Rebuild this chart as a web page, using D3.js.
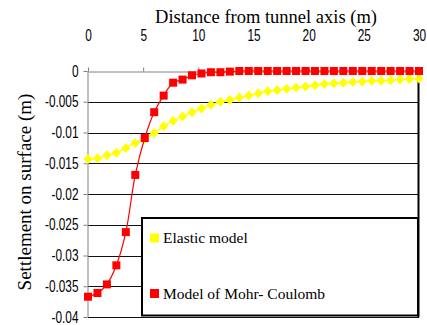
<!DOCTYPE html>
<html>
<head>
<meta charset="utf-8">
<script src="https://cdn.jsdelivr.net/npm/d3@7/dist/d3.min.js"></script>
<style>
  html, body { margin: 0; padding: 0; background: #fff; }
  svg { display: block; }
  .serif { font-family: "Liberation Serif", "DejaVu Serif", "Noto Serif", "Times New Roman", "Nimbus Roman", "Nimbus Roman No9 L", FreeSerif, Tinos, Times, serif; }
  .sans { font-family: "Liberation Sans", Arial, Helvetica, sans-serif; }
</style>
</head>
<body>
<svg id="chart" width="427" height="325"></svg>
<script>
// Surface settlement profiles: distance from the tunnel axis (m) vs settlement (m)
const distance = [0, 0.857, 1.714, 2.571, 3.429, 4.286, 5.143, 6, 6.857, 7.714,
  8.571, 9.429, 10.286, 11.143, 12, 12.857, 13.714, 14.571, 15.429, 16.286,
  17.143, 18, 18.857, 19.714, 20.571, 21.429, 22.286, 23.143, 24, 24.857,
  25.714, 26.571, 27.429, 28.286, 29.143, 30];

const elastic = [-0.0143, -0.0142, -0.0137, -0.0133, -0.0125, -0.0117, -0.0110, -0.0101,
  -0.0090, -0.0081, -0.0074, -0.0067, -0.0061, -0.0055, -0.0050, -0.0047,
  -0.0043, -0.0040, -0.0036, -0.0033, -0.0031, -0.0029, -0.0027, -0.0025,
  -0.0023, -0.0021, -0.0020, -0.0019, -0.0018, -0.0017, -0.0016, -0.0016,
  -0.0015, -0.0014, -0.0013, -0.0012];

const mohrCoulomb = [-0.0367, -0.0361, -0.0347, -0.0316, -0.0262, -0.0169, -0.0109, -0.0067,
  -0.0040, -0.0019, -0.0014, -0.0007, -0.0004, -0.0002, -0.0002, -0.0001,
  0, 0, 0, 0, 0, 0, 0, 0, 0, 0, 0, 0, 0, 0, 0, 0, 0, 0, 0, 0];

const xTicks = [0, 5, 10, 15, 20, 25, 30];
const yTicks = [0, -0.005, -0.01, -0.015, -0.02, -0.025, -0.03, -0.035, -0.04];
const yTickLabels = ["0", "-0.005", "-0.01", "-0.015", "-0.02", "-0.025", "-0.03", "-0.035", "-0.04"];
const seriesNames = ["Elastic model", "Model of Mohr- Coulomb"];
const xTitle = "Distance from tunnel axis (m)";
const yTitle = "Settlement on surface (m)";

const svg = d3.select("#chart");
const x = d3.scaleLinear().domain([0, 30]).range([88, 419]);
const y = d3.scaleLinear().domain([-0.04, 0]).range([317, 71]);

const squeeze = 0.74;

// horizontal gridlines
svg.append("g")
  .selectAll("line")
  .data(yTicks.filter(d => d !== 0))
  .join("line")
  .attr("x1", x(0)).attr("x2", x(30))
  .attr("y1", d => Math.round(y(d)) + 0.5).attr("y2", d => Math.round(y(d)) + 0.5)
  .attr("stroke", "#111").attr("stroke-width", 1);

// right edge of the plot area
svg.append("line")
  .attr("x1", x(30) - 0.5).attr("x2", x(30) - 0.5)
  .attr("y1", y(0)).attr("y2", y(-0.04))
  .attr("stroke", "#000").attr("stroke-width", 2);

// horizontal axis along the zero line, labels on top
const xAxis = svg.append("g")
  .attr("transform", `translate(0,${Math.round(y(0)) + 0.5})`)
  .call(d3.axisTop(x).tickValues(xTicks).tickSize(4).tickSizeOuter(0).tickPadding(27));
xAxis.attr("font-family", null).attr("font-size", null);
xAxis.select(".domain").attr("stroke", "#808080");
xAxis.selectAll(".tick line").attr("stroke", "#808080");
xAxis.selectAll(".tick text")
  .attr("class", "sans").attr("font-size", 16).attr("fill", "#000")
  .attr("transform", `scale(${squeeze},1)`);

// vertical axis
const yAxis = svg.append("g")
  .attr("transform", `translate(${x(0) - 0.5},0)`)
  .call(d3.axisLeft(y).tickValues(yTicks).tickSize(4).tickSizeOuter(0)
    .tickFormat((d, i) => yTickLabels[i]));
yAxis.attr("font-family", null).attr("font-size", null);
yAxis.select(".domain").attr("stroke", "#808080");
yAxis.selectAll(".tick line").attr("stroke", "#808080");
yAxis.selectAll(".tick text")
  .attr("class", "sans").attr("font-size", 16).attr("fill", "#000")
  .attr("x", -9 / squeeze)
  .attr("transform", `scale(${squeeze},1)`);

// axis titles
svg.append("text")
  .attr("class", "serif")
  .attr("x", 266).attr("y", 23)
  .attr("text-anchor", "middle")
  .attr("font-size", 18.5)
  .text(xTitle);

svg.append("text")
  .attr("class", "serif")
  .attr("transform", "translate(31,192) rotate(-90)")
  .attr("text-anchor", "middle")
  .attr("font-size", 19)
  .text(yTitle);

const pts = (vals) => distance.map((d, i) => [x(d), y(vals[i])]);
const line = d3.line().curve(d3.curveCatmullRom.alpha(0.5));

// elastic model: yellow diamonds
svg.append("path")
  .attr("d", line(pts(elastic)))
  .attr("fill", "none").attr("stroke", "#ffff00").attr("stroke-width", 1.5);
svg.append("g")
  .selectAll("path")
  .data(pts(elastic))
  .join("path")
  .attr("d", d => `M${d[0]},${d[1] - 5}L${d[0] + 4.5},${d[1]}L${d[0]},${d[1] + 5}L${d[0] - 4.5},${d[1]}Z`)
  .attr("fill", "#ffff00");

// Mohr-Coulomb model: red squares
svg.append("path")
  .attr("d", line(pts(mohrCoulomb)))
  .attr("fill", "none").attr("stroke", "#ff0000").attr("stroke-width", 1.2);
svg.append("g")
  .selectAll("rect")
  .data(pts(mohrCoulomb))
  .join("rect")
  .attr("x", d => d[0] - 4).attr("y", d => d[1] - 4)
  .attr("width", 8).attr("height", 8)
  .attr("fill", "#ff0000");

// legend
const legend = svg.append("g");
legend.append("rect")
  .attr("x", 142).attr("y", 218).attr("width", 276).attr("height", 97.5)
  .attr("fill", "#fff").attr("stroke", "#000").attr("stroke-width", 2);
const swatch = ["#ffff00", "#ff0000"];
const rowY = [243, 298.5];
seriesNames.forEach((name, i) => {
  legend.append("rect")
    .attr("x", 150).attr("y", rowY[i] - 9.5).attr("width", 9).attr("height", 9)
    .attr("fill", swatch[i]);
  legend.append("text")
    .attr("class", "serif")
    .attr("x", 163).attr("y", rowY[i])
    .attr("font-size", 15.5)
    .text(name);
});
</script>
</body>
</html>
